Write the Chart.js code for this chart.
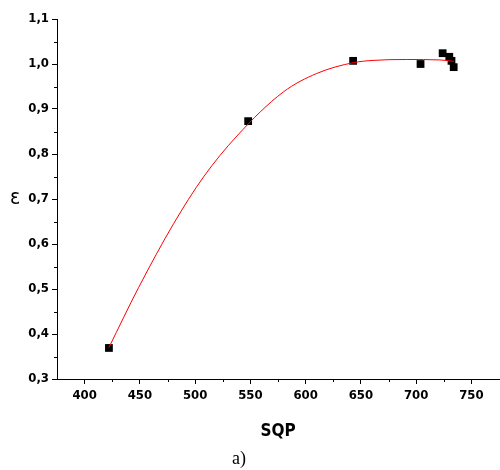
<!DOCTYPE html>
<html>
<head>
<meta charset="utf-8">
<script src="https://cdn.jsdelivr.net/npm/chart.js@4"></script>
<style>
	body { margin: 0; background: #fff; }
	#wrap { position: relative; width: 500px; height: 470px; }
	#caption { position: absolute; left: 232px; top: 448px; font: 18px "Liberation Serif", serif; color: #000; }
</style>
</head>
<body>
<div id="wrap">
	<canvas id="canvas-element" width="500" height="470"></canvas>
	<div id="caption">a)</div>
</div>
<script>
// measured points
const kSqp = [422, 548, 643, 704, 724, 730, 732, 734];
const kEps = [0.369, 0.873, 1.007, 1.000, 1.024, 1.016, 1.007, 0.993];

// red fit curve
const kFitX = [422, 448.8, 480.5, 507.6, 537.8, 579.9, 610.1, 643.2, 661, 691.5, 721.6, 734];
const kFitY = [0.370, 0.503, 0.645, 0.749, 0.840, 0.938, 0.979, 1.003, 1.008, 1.010, 1.009, 1.006];

const kFont = "'DejaVu Sans Condensed', 'DejaVu Sans', sans-serif";

function toPoints(xs, ys) {
	return xs.map((x, i) => ({x, y: ys[i]}));
}

// short minor ticks + the unrotated epsilon label
const extrasPlugin = {
	id: "extras",
	afterDraw(chart) {
		const ctx = chart.ctx;
		const xs = chart.scales.x;
		const ys = chart.scales.y;
		ctx.save();
		ctx.strokeStyle = "#000";
		ctx.lineWidth = 1;
		ctx.beginPath();
		for (let v = 425; v < 775; v += 50) {
			const px = Math.round(xs.getPixelForValue(v)) + 0.5;
			ctx.moveTo(px, xs.top);
			ctx.lineTo(px, xs.top + 3);
		}
		for (let v = 0.35; v < 1.1; v += 0.1) {
			const py = Math.round(ys.getPixelForValue(v)) + 0.5;
			ctx.moveTo(ys.right, py);
			ctx.lineTo(ys.right - 3, py);
		}
		ctx.stroke();
		ctx.fillStyle = "#000";
		ctx.font = "21px " + kFont;
		ctx.textAlign = "center";
		ctx.textBaseline = "middle";
		ctx.fillText("ε", 15, ys.getPixelForValue(0.7));
		ctx.restore();
	}
};

const context = document.getElementById("canvas-element").getContext("2d");

new Chart(context, {
	type: "scatter",
	data: {
		datasets: [
			{
				label: "fit",
				data: toPoints(kFitX, kFitY),
				showLine: true,
				borderColor: "#ff0000",
				borderWidth: 1,
				pointRadius: 0,
				cubicInterpolationMode: "monotone"
			},
			{
				label: "data",
				data: toPoints(kSqp, kEps),
				pointStyle: "rect",
				pointRadius: 5.5,
				backgroundColor: "#000",
				borderColor: "#000",
				borderWidth: 0
			}
		]
	},
	options: {
		responsive: false,
		animation: false,
		layout: {autoPadding: false, padding: {top: 19, right: 1, left: 0, bottom: 0}},
		plugins: {legend: {display: false}, tooltip: {enabled: false}},
		scales: {
			x: {
				type: "linear",
				min: 375,
				max: 775,
				afterFit: (s) => { s.height = 91; },
				afterBuildTicks: (s) => {
					s.ticks = [400, 450, 500, 550, 600, 650, 700, 750].map(v => ({value: v}));
				},
				border: {display: true, color: "#000", width: 1},
				grid: {drawOnChartArea: false, drawTicks: true, tickLength: 5, tickColor: "#000"},
				ticks: {
					color: "#000",
					padding: 4,
					maxRotation: 0,
					font: {family: kFont, size: 13, weight: "bold"}
				},
				title: {
					display: true,
					text: "SQP",
					color: "#000",
					padding: {top: 0, bottom: 28},
					font: {family: kFont, size: 17, weight: "bold"}
				}
			},
			y: {
				type: "linear",
				min: 0.3,
				max: 1.1,
				afterFit: (s) => { s.width = 57; },
				afterBuildTicks: (s) => {
					s.ticks = [0.3, 0.4, 0.5, 0.6, 0.7, 0.8, 0.9, 1.0, 1.1].map(v => ({value: v}));
				},
				border: {display: true, color: "#000", width: 1},
				grid: {drawOnChartArea: false, drawTicks: true, tickLength: 5, tickColor: "#000"},
				ticks: {
					color: "#000",
					padding: 3,
					callback: (v) => v.toFixed(1).replace(".", ","),
					font: {family: kFont, size: 13, weight: "bold"}
				}
			}
		}
	},
	plugins: [extrasPlugin]
});
</script>
</body>
</html>
